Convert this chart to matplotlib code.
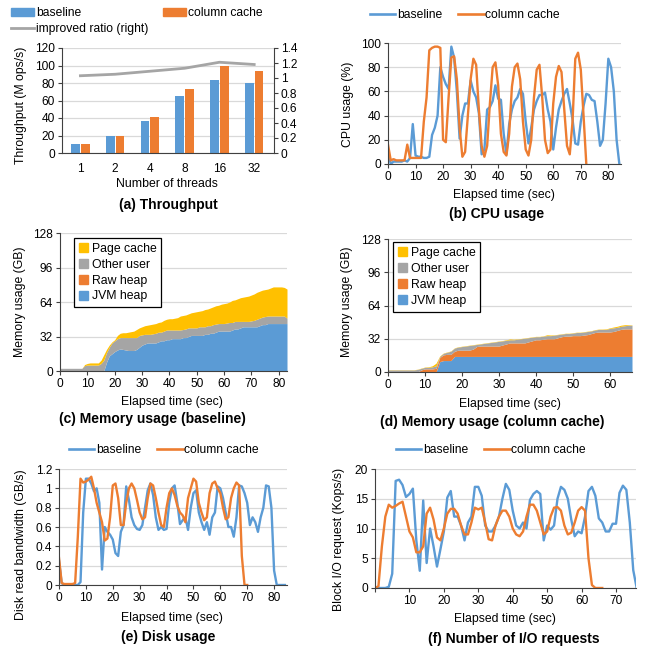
import matplotlib

matplotlib.use("Agg")
import matplotlib.pyplot as plt
from matplotlib.lines import Line2D
from matplotlib.patches import Patch
import numpy as np

W, H = 646, 652

# ── Excel-like palette ────────────────────────────────────────────────────────
BLUE = "#5B9BD5"
ORANGE = "#ED7D31"
GRAY = "#A5A5A5"
YELLOW = "#FFC000"
GRID = "#D9D9D9"
AXIS = "#404040"

plt.rcParams.update({"font.family": ["Liberation Sans", "DejaVu Sans"], "font.size": 8.5})

# ── (a) throughput ────────────────────────────────────────────────────────────
threads = ["1", "2", "4", "8", "16", "32"]
tput_base = [10, 20, 37, 65, 83, 80]
tput_cc = [10, 20, 41, 73, 99, 94]
tput_ratio = [1.03, 1.05, 1.09, 1.13, 1.21, 1.18]

# ── (b) CPU usage (%), one sample per second ─────────────────────────────────
cpu_base = [10, 0, 2, 2, 2, 2, 3, 2, 5, 33,
            7, 6, 6, 5, 5, 6, 24, 30, 40, 80,
            72, 66, 62, 97, 88, 60, 21, 40, 50, 50,
            69, 60, 55, 42, 8, 12, 45, 47, 52, 65,
            54, 53, 25, 8, 33, 45, 52, 55, 62, 58,
            35, 17, 30, 45, 52, 57, 57, 59, 45, 35,
            12, 30, 45, 52, 58, 62, 50, 37, 17, 16,
            35, 48, 58, 57, 53, 52, 35, 15, 20, 50,
            87, 80, 60, 20, 0]
cpu_cc = [16, 3, 4, 3, 3, 3, 3, 16, 5, 5,
          5, 5, 5, 35, 55, 94, 96, 97, 97, 96,
          20, 18, 55, 88, 89, 70, 30, 6, 10, 40,
          70, 87, 82, 45, 15, 6, 15, 50, 80, 84,
          65, 25, 10, 7, 25, 64, 80, 83, 70, 35,
          12, 7, 20, 55, 78, 82, 55, 20, 9, 12,
          50, 72, 81, 76, 45, 15, 8, 35, 87, 92,
          78, 40, 0]

# ── (c) memory, baseline: stacked levels (GB), one sample per second ─────────
base_jvm_top = [0, 0, 0, 0, 0, 0, 0, 0, 0, 0,
                0, 0, 0, 0, 0, 0, 0, 8, 14, 16,
                18, 19.5, 20.5, 20, 19.5, 19, 19, 19, 20, 22,
                24, 25, 26, 26, 26, 26, 27, 28, 28, 29,
                29, 30, 30, 30, 30, 31, 31, 32, 33, 33,
                33, 33, 33, 34, 34, 35, 35, 36, 37, 37,
                37, 37, 37, 38, 39, 39, 40, 41, 41, 41,
                41, 41, 41, 42, 43, 43, 44, 44, 44, 44,
                44, 44, 44, 44]
base_user_top = [2.5, 2.5, 2.5, 2.5, 2.5, 2.5, 2.5, 2.5, 2.5, 5,
                 5.5, 5.5, 5.5, 5.5, 5.5, 7, 10, 17, 22, 26,
                 28, 30, 31, 31, 31, 31, 31, 31, 31, 33,
                 33.5, 34, 34, 34, 34.5, 35, 36, 36, 37, 38,
                 38, 38, 38, 38, 38, 38.5, 39, 40, 40, 40,
                 40, 41, 41, 41, 42, 42, 43, 43.5, 44, 44,
                 44, 44.5, 45, 45, 46, 46, 46, 46, 46, 46,
                 46.5, 47, 48, 49, 50, 50.5, 51, 51, 51, 51,
                 51, 51, 51, 49]
base_total = [2.5, 2.5, 2.5, 2.5, 2.5, 2.5, 2.5, 2.5, 2.5, 6,
              7, 7.5, 7.5, 7.5, 7.5, 10, 15, 20, 24, 27,
              29, 33, 35, 35.5, 35.5, 36, 36.5, 37, 38.5, 40,
              41, 42, 42.5, 43, 43.5, 44, 45, 45.5, 47, 48,
              48.5, 48.5, 49, 49.5, 51, 51.5, 52, 53, 54, 54.5,
              55, 55.5, 56, 57, 57.5, 58.5, 59.5, 60.5, 61, 62,
              62.5, 63, 64, 65.5, 66, 67, 68, 68.5, 69, 69.5,
              70.5, 71.5, 73, 74, 75, 75.5, 76, 77, 78, 78,
              78, 78, 77.5, 76]

# ── (d) memory, column cache: stacked levels (GB) ────────────────────────────
cc_jvm_top = [0, 0, 0, 0, 0, 0, 0, 0, 0, 0,
              0, 0, 0, 0, 10, 11, 11, 11, 15, 15,
              15, 15, 15, 15, 15, 15, 15, 15, 15, 15,
              15, 15, 15, 15, 15, 15, 15, 15, 15, 15,
              15, 15, 15, 15, 15, 15, 15, 15, 15, 15,
              15, 15, 15, 15, 15, 15, 15, 15, 15, 15,
              15, 15, 15, 15, 15, 15, 15]
cc_raw_top = [0, 0, 0, 0, 0, 0, 0, 0, 0, 2,
              3, 3, 3, 3.5, 14, 16.5, 17, 17, 20, 21,
              21, 21, 21, 22, 24.5, 25, 25, 25, 25, 25,
              25, 26, 27, 28, 28, 28, 28, 28, 29, 30,
              31, 31, 31.5, 32, 32, 32, 33, 34, 34.5, 34.5,
              35, 35, 35, 35.5, 36, 37, 38, 38.5, 38.5, 38.5,
              38.5, 39, 40, 41, 41.5, 41.5, 41.5]
cc_user_top = [2, 2, 2, 2, 2, 2, 2, 2, 2.5, 3.5,
               4.5, 4.5, 5, 6, 15, 18, 19, 20, 23, 24,
               24.5, 25, 25.5, 26, 26.5, 27, 27.5, 28, 28.5, 29,
               29.5, 30, 30.5, 31, 31, 31.5, 32, 32.5, 33, 33.5,
               34, 34, 34.5, 35, 35, 35.5, 36, 36.5, 37, 37,
               37.5, 38, 38, 38.5, 39, 39.5, 40.5, 41, 41, 41,
               42, 42.5, 43, 44, 44.5, 45, 45]
cc_total = [2.2, 2.2, 2.2, 2.2, 2.2, 2.2, 2.2, 2.2, 2.7, 3.8,
            4.8, 5, 6, 8.5, 15.5, 18.3, 19.3, 20.3, 23.3, 24.3,
            24.8, 25.3, 25.8, 26.3, 26.8, 27.3, 27.8, 28.3, 28.8, 29.3,
            29.8, 30.3, 31, 31.8, 31.5, 31.8, 32.3, 32.8, 33.3, 33.8,
            34.3, 34.3, 34.8, 35.8, 35.6, 35.8, 36.3, 36.8, 37.3, 37.3,
            37.8, 38.3, 38.3, 38.8, 39.3, 39.8, 40.8, 41.3, 41.3, 41.5,
            42.5, 43.3, 44, 45, 45.5, 45.5, 45.3]

# ── (e) disk read bandwidth (GB/s) ───────────────────────────────────────────
disk_base = [0.25, 0.02, 0, 0, 0, 0, 0, 0, 0.03, 0.75,
             1.1, 1.1, 1.05, 0.97, 1.0, 0.85, 0.16, 0.6, 0.55, 0.52,
             0.47, 0.33, 0.3, 0.55, 0.62, 1.02, 0.88, 0.7, 0.62, 0.58,
             0.57, 0.62, 0.8, 0.98, 1.05, 0.93, 0.7, 0.57, 0.6, 0.57,
             0.58, 0.85, 1.0, 1.03, 0.85, 0.63, 0.67, 0.7, 0.57, 0.8,
             0.95, 0.98, 0.75, 0.65, 0.57, 0.65, 0.52, 0.7, 0.75, 1.02,
             1.0, 0.9, 0.75, 0.6, 0.6, 0.5, 0.7, 1.03, 1.02, 0.95,
             0.85, 0.62, 0.7, 0.65, 0.55, 0.7, 0.8, 1.03, 1.02, 0.8,
             0.15, 0, 0, 0, 0]
disk_cc = [0.28, 0.02, 0.01, 0.01, 0.01, 0.01, 0.02, 0.5, 1.1, 1.06,
           1.07, 1.09, 1.12, 1.0, 0.85, 0.75, 0.65, 0.46, 0.48, 0.7,
           1.03, 1.05, 0.9, 0.62, 0.62, 0.85, 1.0, 1.05, 1.0, 0.88,
           0.75, 0.68, 0.7, 0.9, 1.05, 1.03, 0.9, 0.75, 0.62, 0.6,
           0.8, 0.95, 1.0, 0.93, 0.82, 0.75, 0.72, 0.65, 0.9, 1.0,
           1.1, 1.07, 0.85, 0.75, 0.67, 0.7, 0.95, 1.05, 1.07, 1.0,
           0.95, 0.8, 0.68, 0.7, 0.9, 1.0, 1.06, 1.03, 0.3, 0,
           0]

# ── (f) block I/O requests (Kops/s) ──────────────────────────────────────────
io_base = [0, 0, 0, 0, 0.2, 2.4, 18, 18.2, 17.3, 15.3,
           15.8, 16.7, 8, 2.9, 14.7, 4.2, 10, 7, 3.6, 6.5,
           9.5, 15.2, 16.3, 12, 12, 10.5, 8, 11, 12, 17,
           17, 15.5, 10.5, 9.5, 9.5, 10.5, 12, 15, 17.5, 16.5,
           13, 10.5, 10, 11, 10, 14.8, 15.8, 16.3, 15.8, 8,
           10.5, 9.8, 10.5, 15, 17, 16.5, 15, 11.5, 8.7, 9.5,
           9.2, 12, 16.3, 17, 15.5, 11.7, 11, 9.5, 9.5, 10.8,
           10.8, 16, 17.2, 16.5, 11, 3, 0]
io_cc = [0, 0.3, 7, 12, 14, 13.5, 13.8, 14.2, 14.5, 12,
         9.5, 8.5, 6, 6, 7, 12.5, 13.5, 11.5, 8.5, 8,
         10, 12.5, 13.3, 13.3, 12.5, 10.5, 9, 9, 11, 13.5,
         13.2, 13.5, 11, 8.2, 8, 10.5, 12, 13, 13, 12,
         10, 9, 8.7, 9.5, 12, 14, 14, 13, 11, 9,
         9.5, 12, 13.5, 13.6, 13, 10.5, 9, 9.3, 11, 13,
         13.6, 13, 5, 0.5, 0, 0, 0]

LEG_KW = dict(frameon=False, fontsize=8.7, handlelength=2.1, handletextpad=0.15,
              columnspacing=1.3, borderaxespad=0, borderpad=0)
LW = 1.7


def axes_px(fig, left, top, right, bottom):
    return fig.add_axes([left / W, 1 - bottom / H, (right - left) / W, (bottom - top) / H])


def text_px(fig, x, y, s, **kw):
    fig.text(x / W, 1 - y / H, s, ha="center", va="center", **kw)


def style(ax):
    for s in ("top", "right"):
        ax.spines[s].set_visible(False)
    for s in ("left", "bottom"):
        ax.spines[s].set_color(AXIS)
        ax.spines[s].set_linewidth(0.8)
    ax.tick_params(direction="out", length=3, width=0.8, color=AXIS,
                   labelsize=8.6, pad=2, labelcolor="black")
    ax.yaxis.grid(True, color=GRID, linewidth=0.9)
    ax.set_axisbelow(True)


def line_legend(fig, x, y):
    handles = [Line2D([], [], color=BLUE, lw=1.9), Line2D([], [], color=ORANGE, lw=1.9)]
    fig.legend(handles, ["baseline", "column cache"], loc="center", ncol=2,
               bbox_to_anchor=(x / W, 1 - y / H), **LEG_KW)


def mem_legend(ax, x0, y0):
    handles = [Patch(color=YELLOW), Patch(color=GRAY), Patch(color=ORANGE), Patch(color=BLUE)]
    leg = ax.legend(handles, ["Page cache", "Other user", "Raw heap", "JVM heap"],
                    loc="upper left", bbox_to_anchor=(x0, y0), fontsize=8.8,
                    handlelength=0.75, handleheight=0.75, handletextpad=0.3,
                    labelspacing=0.32, borderpad=0.4, borderaxespad=0,
                    fancybox=False, framealpha=1)
    leg.get_frame().set_edgecolor("black")
    leg.get_frame().set_linewidth(0.9)


fig = plt.figure(figsize=(W / 100, H / 100), dpi=100)
fig.patch.set_facecolor("white")
TITLE = dict(fontsize=10, fontweight="bold")
LAB = dict(fontsize=8.8)

# (a) ---------------------------------------------------------------------------
ax = axes_px(fig, 62, 48, 274, 153)
style(ax)
x = np.arange(len(threads))
ax.bar(x - 0.14, tput_base, 0.25, color=BLUE, zorder=2)
ax.bar(x + 0.14, tput_cc, 0.25, color=ORANGE, zorder=2)
ax.set_xlim(-0.53, 5.57)
ax.set_ylim(0, 120)
ax.set_yticks(range(0, 121, 20))
ax.set_xticks(x)
ax.set_xticklabels(threads)
ax.tick_params(axis="x", length=0, pad=7)
ax2 = ax.twinx()
ax2.plot(x, tput_ratio, color=GRAY, lw=2.0)
ax2.set_ylim(0, 1.4)
ax2.set_yticks(np.arange(0, 1.41, 0.2))
ax2.set_yticklabels(["0", "0.2", "0.4", "0.6", "0.8", "1", "1.2", "1.4"])
for s in ("top", "left", "bottom"):
    ax2.spines[s].set_visible(False)
ax2.spines["right"].set_color(AXIS)
ax2.spines["right"].set_linewidth(0.8)
ax2.tick_params(direction="out", length=3, width=0.8, color=AXIS, labelsize=8.6, pad=2)
h = [Patch(color=BLUE), Line2D([], [], color=GRAY, lw=2.0), Patch(color=ORANGE)]
fig.legend(h, ["baseline", "improved ratio (right)", "column cache"], loc="center", ncol=2,
           bbox_to_anchor=(137 / W, 1 - 21 / H), handleheight=0.7, labelspacing=0.3,
           **{**LEG_KW, "handlelength": 1.9, "columnspacing": 1.2})
text_px(fig, 21, 105, "Throughput (M ops/s)", rotation=90, **LAB)
text_px(fig, 167, 184, "Number of threads", **LAB)
text_px(fig, 168, 205, "(a) Throughput", **TITLE)

# (b) ---------------------------------------------------------------------------
ax = axes_px(fig, 388, 43, 621, 164)
style(ax)
ax.plot(np.arange(len(cpu_base)), cpu_base, color=BLUE, lw=LW)
ax.plot(np.arange(len(cpu_cc)), cpu_cc, color=ORANGE, lw=LW)
ax.set_xlim(0, 84.6)
ax.set_ylim(0, 100)
ax.set_xticks(range(0, 81, 10))
ax.set_yticks(range(0, 101, 20))
line_legend(fig, 465, 15)
text_px(fig, 348, 104, "CPU usage (%)", rotation=90, **LAB)
text_px(fig, 504, 195, "Elapsed time (sec)", **LAB)
text_px(fig, 497, 214, "(b) CPU usage", **TITLE)

# (c) ---------------------------------------------------------------------------
ax = axes_px(fig, 60, 233, 287, 371)
style(ax)
t = np.arange(len(base_total))
ax.fill_between(t, 0, base_jvm_top, color=BLUE, lw=0)
ax.fill_between(t, base_jvm_top, base_user_top, color=GRAY, lw=0)
ax.fill_between(t, base_user_top, base_total, color=YELLOW, lw=0)
ax.set_xlim(0, 83)
ax.set_ylim(0, 128)
ax.set_xticks(range(0, 81, 10))
ax.set_yticks([0, 32, 64, 96, 128])
mem_legend(ax, 0.062, 0.965)
text_px(fig, 20, 302, "Memory usage (GB)", rotation=90, **LAB)
text_px(fig, 172, 402, "Elapsed time (sec)", **LAB)
text_px(fig, 152, 419, "(c) Memory usage (baseline)", **TITLE)

# (d) ---------------------------------------------------------------------------
ax = axes_px(fig, 388, 239, 632, 372)
style(ax)
t = np.arange(len(cc_total))
ax.fill_between(t, 0, cc_jvm_top, color=BLUE, lw=0)
ax.fill_between(t, cc_jvm_top, cc_raw_top, color=ORANGE, lw=0)
ax.fill_between(t, cc_raw_top, cc_user_top, color=GRAY, lw=0)
ax.fill_between(t, cc_user_top, cc_total, color=YELLOW, lw=0)
ax.set_xlim(0, 66)
ax.set_ylim(0, 128)
ax.set_xticks(range(0, 61, 10))
ax.set_yticks([0, 32, 64, 96, 128])
mem_legend(ax, 0.02, 0.975)
text_px(fig, 347, 302, "Memory usage (GB)", rotation=90, **LAB)
text_px(fig, 510, 404, "Elapsed time (sec)", **LAB)
text_px(fig, 492, 422, "(d) Memory usage (column cache)", **TITLE)

# (e) ---------------------------------------------------------------------------
ax = axes_px(fig, 59, 469, 287, 585)
style(ax)
ax.plot(np.arange(len(disk_base)), disk_base, color=BLUE, lw=LW)
ax.plot(np.arange(len(disk_cc)), disk_cc, color=ORANGE, lw=LW)
ax.set_xlim(0, 84.8)
ax.set_ylim(0, 1.2)
ax.set_xticks(range(0, 81, 10))
ax.set_yticks(np.arange(0, 1.21, 0.2))
ax.set_yticklabels(["0", "0.2", "0.4", "0.6", "0.8", "1", "1.2"])
line_legend(fig, 164, 450)
text_px(fig, 21, 545, "Disk read bandwidth (GB/s)", rotation=90, **LAB)
text_px(fig, 172, 618, "Elapsed time (sec)", **LAB)
text_px(fig, 168, 637, "(e) Disk usage", **TITLE)

# (f) ---------------------------------------------------------------------------
ax = axes_px(fig, 375, 469, 636, 588)
style(ax)
ax.plot(np.arange(len(io_base)), io_base, color=BLUE, lw=LW)
ax.plot(np.arange(len(io_cc)), io_cc, color=ORANGE, lw=LW)
ax.set_xlim(0, 75.8)
ax.set_ylim(0, 20)
ax.set_xticks(range(0, 71, 10))
ax.set_xticklabels([""] + [str(v) for v in range(10, 71, 10)])
ax.set_yticks(range(0, 21, 5))
line_legend(fig, 491, 450)
text_px(fig, 339, 539, "Block I/O request (Kops/s)", rotation=90, **LAB)
text_px(fig, 505, 619, "Elapsed time (sec)", **LAB)
text_px(fig, 514, 639, "(f) Number of I/O requests", **TITLE)

fig.savefig("out.png", dpi=100, facecolor="white")
plt.close(fig)
